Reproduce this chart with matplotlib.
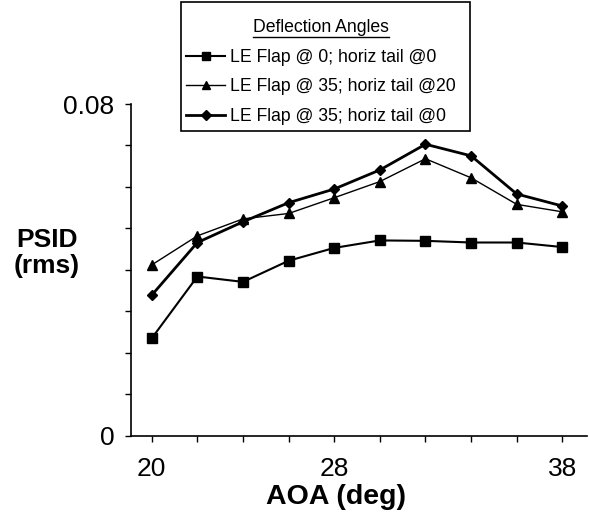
import matplotlib
matplotlib.use("Agg")
import matplotlib.pyplot as plt
from matplotlib.lines import Line2D
from matplotlib.patches import Rectangle

plt.rcParams['font.family'] = ['Liberation Sans', 'DejaVu Sans']

# angle of attack (deg)
aoa = [20, 22, 24, 26, 28, 30, 32, 34, 36, 38]

# PSID rms for each deflection case
flap0_tail0 = [0.0235, 0.0384, 0.0371, 0.0422, 0.0453, 0.0471, 0.0470, 0.0466, 0.0466, 0.0455]
flap35_tail20 = [0.0412, 0.0482, 0.0523, 0.0536, 0.0574, 0.0613, 0.0668, 0.0622, 0.0558, 0.0540]
flap35_tail0 = [0.0339, 0.0466, 0.0516, 0.0562, 0.0595, 0.0641, 0.0703, 0.0675, 0.0583, 0.0554]

labels = ['LE Flap @ 0; horiz tail @0',
          'LE Flap @ 35; horiz tail @20',
          'LE Flap @ 35; horiz tail @0']

xticks = list(range(20, 39, 2))
xticklabels = ['20', '', '', '', '28', '', '', '', '', '38']
yticks = [i * 0.01 for i in range(9)]
yticklabels = ['0', '', '', '', '', '', '', '', '0.08']

fig = plt.figure(figsize=(5.89, 5.16), dpi=100)
ax = fig.add_axes([0.2224, 0.1556, 0.7742, 0.6428])

l1, = ax.plot(aoa, flap0_tail0, color='black', lw=1.5, marker='s', ms=7)
l2, = ax.plot(aoa, flap35_tail20, color='black', lw=1.0, marker='^', ms=7)
l3, = ax.plot(aoa, flap35_tail0, color='black', lw=2.0, marker='D', ms=5.5)

ax.set_xlim(19.09, 39.08)
ax.set_ylim(0, 0.08)
ax.set_xticks(xticks)
ax.set_xticklabels(xticklabels, fontsize=19)
ax.set_yticks(yticks)
ax.set_yticklabels(yticklabels, fontsize=19)
ax.tick_params(length=4, width=1, direction='out')
ax.tick_params(axis='x', pad=11)
ax.tick_params(axis='y', pad=8)
for s in ['top', 'right']:
    ax.spines[s].set_visible(False)
ax.spines['left'].set_linewidth(1.2)
ax.spines['bottom'].set_linewidth(1.2)

fig.text(0.5705, 0.037, 'AOA (deg)', fontsize=20.5, fontweight='bold',
         ha='center', va='center')
fig.text(0.08, 0.51, 'PSID\n(rms)', fontsize=19, fontweight='bold',
         ha='center', va='center', linespacing=1.1)

# legend box drawn separately so its padding matches the original
fig.add_artist(Rectangle((181 / 589, 385 / 516), 289 / 589, 129 / 516,
                         transform=fig.transFigure, fill=False,
                         edgecolor='black', lw=1.2))
leg = fig.legend([l1, l2, l3], labels, loc='upper left',
                 bbox_to_anchor=(0.316, 0.963), title='Deflection Angles',
                 fontsize=12.7, title_fontsize=12.7, frameon=False,
                 handlelength=2.2, handletextpad=0.3, markerscale=0.85,
                 labelspacing=0.72, borderpad=0, borderaxespad=0)

# underline legend title
fig.canvas.draw()
bb = leg.get_title().get_window_extent().transformed(fig.transFigure.inverted())
fig.add_artist(Line2D([bb.x0, bb.x1], [bb.y0 - 0.002, bb.y0 - 0.002],
                      transform=fig.transFigure, color='black', lw=1))

fig.savefig('out.png', dpi=100)
